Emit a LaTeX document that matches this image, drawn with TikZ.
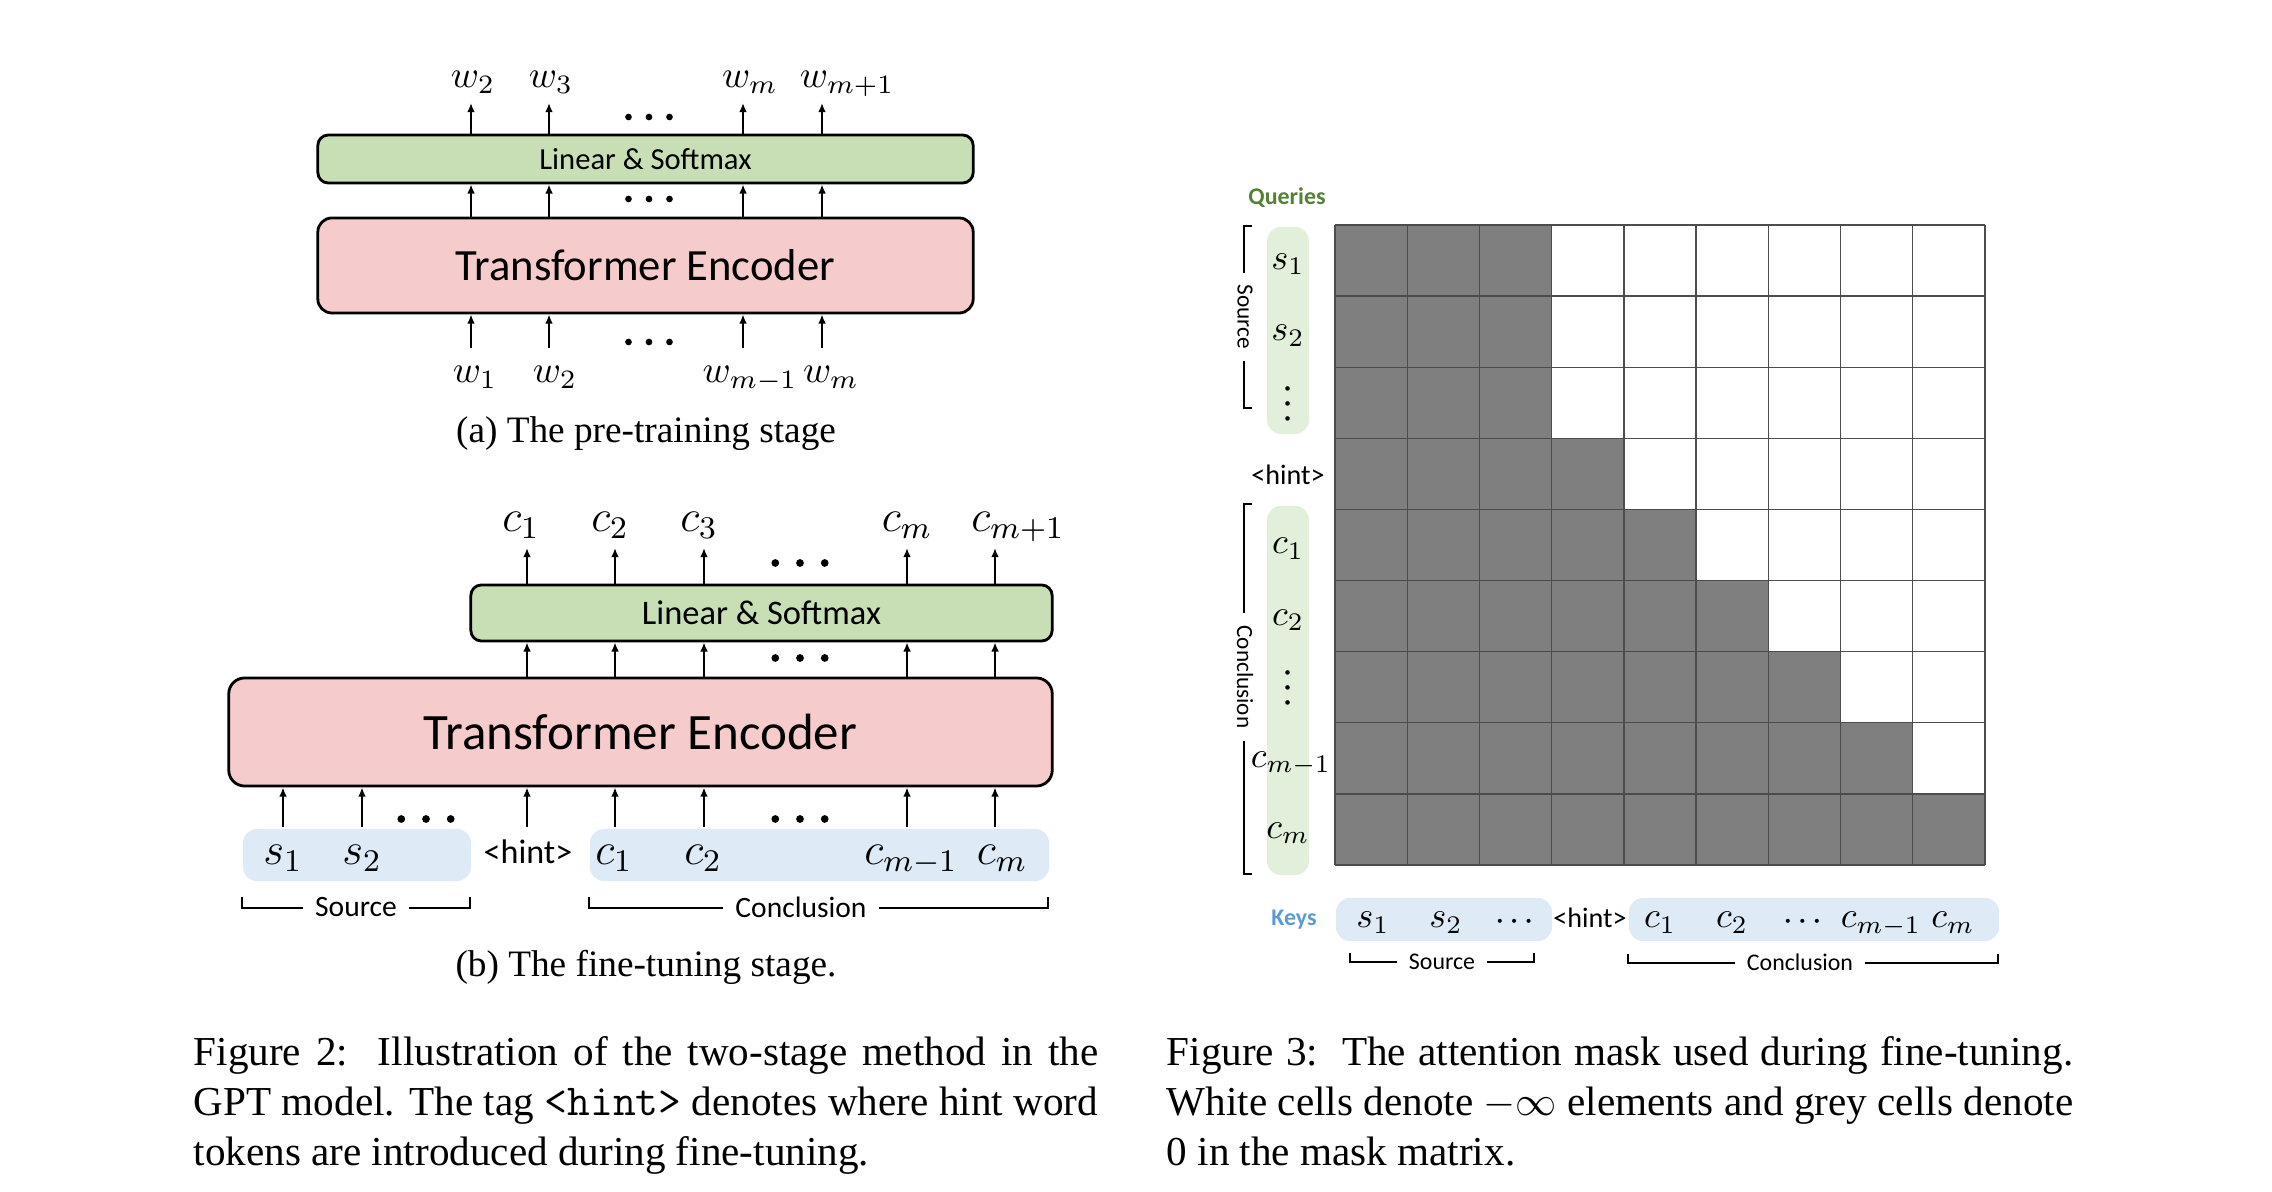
\documentclass[tikz,border=0pt]{standalone}
\usepackage{fix-cm}
\usepackage{mathtools}
\usepackage{graphicx}
\usepackage{fontspec}
\setmainfont{Liberation Serif}
\newfontfamily\diagfont{Carlito}
\usetikzlibrary{arrows.meta,positioning}

\definecolor{lsgreen}{HTML}{C8DFB5}
\definecolor{encpink}{HTML}{F6CBCC}
\definecolor{tokblue}{HTML}{DEEAF6}
\definecolor{qgreen}{HTML}{E2EFDA}
\definecolor{cellgrey}{HTML}{7F7F7F}
\definecolor{qtext}{HTML}{548235}
\definecolor{ktext}{HTML}{5B9BD5}

\begin{document}
\begin{tikzpicture}[x=0.01cm, y=-0.01cm] % 1 unit = 1 px of the page, y down
\tikzstyle{block} = [draw, line width=0.8pt, inner sep=0pt] % Linear / Transformer blocks
\tikzstyle{strip} = [fill=tokblue, rounded corners=4pt, inner sep=0pt] % token strips
\tikzstyle{arr} = [line width=0.6pt, -{Latex[length=2.6pt,width=2.2pt]}]
\tikzstyle{brk} = [line width=0.55pt] % brackets under / beside the tokens
\tikzstyle{tag} = [inner sep=0pt, anchor=base] % token labels
\tikzstyle{gap} = [fill=white, inner xsep=3.5pt, inner ysep=1pt] % text cutting a bracket
\tikzstyle{gridln} = [line width=0.4pt, black!70]
\tikzstyle{mA} = [font=\fontsize{10.8}{12}\selectfont] % math, stage (a)
\tikzstyle{mB} = [font=\fontsize{12.8}{14}\selectfont] % math, stage (b)
\tikzstyle{mM} = [font=\fontsize{10.3}{12}\selectfont] % math, mask
\tikzstyle{dotA} = [circle, fill, inner sep=0pt, minimum size=1.9pt] % ellipsis dot, (a)
\tikzstyle{dotB} = [circle, fill, inner sep=0pt, minimum size=2.2pt] % ellipsis dot, (b)
\tikzstyle{dotsM} = [inner sep=0pt, font=\fontsize{8.2}{9}\selectfont\boldmath]
\def\cw{72.22} % cell width
\def\ch{71.11} % cell height

\useasboundingbox (0,0) rectangle (2272,1192);

% ---------------- (a) pre-training ----------------
\node[block, fill=lsgreen, rounded corners=3pt, minimum width=6.55cm, minimum height=0.48cm,
      font=\diagfont\fontsize{8.7}{10}\selectfont] (lsA) at (645.5,159) {Linear \& Softmax};
\node[block, fill=encpink, rounded corners=4pt, minimum width=6.55cm, minimum height=0.95cm,
      font=\diagfont\fontsize{12.7}{14}\selectfont] (encA) at (645.5,265.5) {Transformer Encoder};
\foreach \x/\lab [count=\i] in {473/w_2, 551/w_3, 750/w_m, 847/w_{m+1}}
    \node[tag, mA] (oa\i) at (\x,88) {$\lab$};
\foreach \x/\lab [count=\i] in {475/w_1, 555/w_2, 750/w_{m-1}, 831/w_m}
    \node[tag, mA] (ia\i) at (\x,383) {$\lab$};
\foreach \x [count=\i] in {471,549,743,822}{
    \coordinate (fa\i) at (\x,348); % foot of input arrow
    \coordinate (ta\i) at (\x,103); % tip of output arrow
    \draw[arr] (fa\i) -- (fa\i |- encA.south);
    \draw[arr] (fa\i |- encA.north) -- (fa\i |- lsA.south);
    \draw[arr] (fa\i |- lsA.north) -- (ta\i);
}
\foreach \cy [count=\k] in {117,199,342} % rows of dots
    \foreach \d [count=\j] in {-1,0,1}
        \node[dotA] (dA\k\j) at (649+\d*20.5,\cy) {};
\node[anchor=base, font=\fontsize{10.6}{12}\selectfont] (capA) at (646,443) {(a) The pre-training stage};

% ---------------- (b) fine-tuning ----------------
\node[block, fill=lsgreen, rounded corners=3pt, minimum width=5.81cm, minimum height=0.56cm,
      font=\diagfont\fontsize{9.8}{11}\selectfont] (lsB) at (761.5,613) {Linear \& Softmax};
\node[block, fill=encpink, rounded corners=4.5pt, minimum width=8.23cm, minimum height=1.08cm,
      font=\diagfont\fontsize{14.5}{16}\selectfont] (encB) at (640.5,732) {Transformer Encoder};
\node[strip, minimum width=2.28cm, minimum height=0.52cm] (srcB) at (357,855) {};
\node[strip, minimum width=4.59cm, minimum height=0.52cm] (conB) at (819.5,855) {};
\foreach \x/\lab [count=\i] in {521/c_1, 610/c_2, 699/c_3, 907/c_m, 1018/c_{m+1}}
    \node[tag, mB] (ob\i) at (\x,532) {$\lab$};
\foreach \x/\lab [count=\i] in {283/s_1, 362/s_2, 614/c_1, 703/c_2, 911/c_{m-1}, 1002/c_m}
    \node[tag, mB] (ib\i) at (\x,865) {$\lab$};
\node[tag, font=\diagfont\fontsize{9.7}{11}\selectfont] (hintB) at (528,864) {<hint>};
\foreach \x [count=\i] in {283,362,527,615,704,907,995}{
    \coordinate (fb\i) at (\x,827);
    \draw[arr] (fb\i) -- (fb\i |- encB.south);
}
\foreach \x [count=\i] in {527,615,704,907,995}{
    \coordinate (tb\i) at (\x,548);
    \draw[arr] (tb\i |- encB.north) -- (tb\i |- lsB.south);
    \draw[arr] (tb\i |- lsB.north) -- (tb\i);
}
\foreach \cx/\cy [count=\k] in {800/563, 800/658, 426/819, 800/819}
    \foreach \d [count=\j] in {-1,0,1}
        \node[dotB] (dB\k\j) at (\cx+\d*24.7,\cy) {};
% brackets
\draw[brk] (srcB.south west) ++(0,15) -- ++(0,11) -- ++(228,0) -- ++(0,-11);
\draw[brk] (conB.south west) ++(0,15) -- ++(0,11) -- ++(459,0) -- ++(0,-11);
\node[gap, font=\diagfont\fontsize{8.4}{10}\selectfont] (srcLblB) at (356,907) {Source};
\node[gap, font=\diagfont\fontsize{8.4}{10}\selectfont] (conLblB) at (801,907) {Conclusion};
\node[anchor=base, font=\fontsize{10.6}{12}\selectfont] (capB) at (646,977) {(b) The fine-tuning stage.};

% ---------------- attention mask ----------------
\foreach \row in {0,...,8}{
  \foreach \col in {0,...,8}{
    \pgfmathtruncatemacro\lastg{max(2,\row)}
    \ifnum\col>\lastg \def\cc{white}\else \def\cc{cellgrey}\fi
    \fill[\cc] (1335+\col*\cw, 225+\row*\ch) rectangle ++(\cw,\ch);
  }
}
\foreach \i in {0,...,9}{
  \draw[gridln] (1335+\i*\cw, 225) -- (1335+\i*\cw, 865);
  \draw[gridln] (1335, 225+\i*\ch) -- (1985, 225+\i*\ch);
}
% queries
\node[font=\diagfont\bfseries\fontsize{6.8}{8}\selectfont, text=qtext] (qry) at (1287,198) {Queries};
\node[fill=qgreen, rounded corners=4pt, minimum width=0.42cm, minimum height=2.07cm] (qsrc) at (1288,330.5) {};
\node[fill=qgreen, rounded corners=4pt, minimum width=0.42cm, minimum height=3.69cm] (qcon) at (1288,690.5) {};
\foreach \row/\lab in {0/s_1, 1/s_2, 4/c_1, 5/c_2, 8/c_m}
    \node[tag, mM] (q\row) at (1288, 225+\row*\ch+\ch/2+9) {$\lab$};
\node[tag, mM] (q7) at (1291, 225+7*\ch+\ch/2+9) {$c_{m-1}$};
\node[dotsM] (q2) at (1288,401) {\rotatebox{90}{$\cdots$}};
\node[dotsM] (q6) at (1288,685) {\rotatebox{90}{$\cdots$}};
\node[font=\diagfont\fontsize{8}{9}\selectfont] (q3) at (1288,474.5) {<hint>};
\draw[brk] (qsrc.north west) ++(-14,0) -- ++(-8,0) -- ++(0,182) -- ++(8,0);
\draw[brk] (qcon.north west) ++(-14,-1) -- ++(-8,0) -- ++(0,370) -- ++(8,0);
\node[gap, rotate=-90, font=\diagfont\fontsize{6.6}{8}\selectfont] (srcLblQ) at (1245,317) {Source};
\node[gap, rotate=-90, font=\diagfont\fontsize{6.6}{8}\selectfont] (conLblQ) at (1245,677) {Conclusion};
% keys
\node[font=\diagfont\bfseries\fontsize{6.8}{8}\selectfont, text=ktext] (keys) at (1294,920) {Keys};
\node[strip, minimum width=2.16cm, minimum height=0.43cm] (ksrc) at (1444,919.5) {};
\node[strip, minimum width=3.70cm, minimum height=0.43cm] (kcon) at (1814,919.5) {};
\foreach \x/\lab [count=\i] in {1373/s_1, 1446/s_2, 1660/c_1, 1732/c_2, 1881/c_{m-1}, 1953/c_m}
    \node[tag, mM] (k\i) at (\x,928) {$\lab$};
\node[dotsM, font=\fontsize{7}{8}\selectfont\boldmath] (kd1) at (1517,921) {$\cdots$};
\node[dotsM, font=\fontsize{7}{8}\selectfont\boldmath] (kd2) at (1805,921) {$\cdots$};
\node[font=\diagfont\fontsize{8}{9}\selectfont] (kh) at (1590,918) {<hint>};
\draw[brk] (1350,953) -- (1350,962) -- (1534,962) -- (1534,953);
\draw[brk] (kcon.south west) ++(0,12) -- ++(0,9) -- ++(370,0) -- ++(0,-9);
\node[gap, font=\diagfont\fontsize{6.8}{8}\selectfont] (srcLblK) at (1442,962) {Source};
\node[gap, font=\diagfont\fontsize{6.8}{8}\selectfont] (conLblK) at (1800,962) {Conclusion};

% ---------------- captions ----------------
\node[anchor=north west, text width=9.04cm, align=justify, inner sep=0pt,
      font=\fontsize{11.7}{14.2}\selectfont] (capL) at (193,1036)
  {Figure 2:\ \ Illustration of the two-stage method in the\linebreak
   GPT model. The tag {\fontsize{12.6}{14.2}\selectfont\texttt{<hint>}} denotes where hint word\linebreak
   tokens are introduced during fine-tuning.};
\node[anchor=north west, text width=9.06cm, align=justify, inner sep=0pt,
      font=\fontsize{11.7}{14.2}\selectfont] (capR) at (1166,1036)
  {Figure 3:\ \ The attention mask used during fine-tuning.\linebreak
   White cells denote $-\infty$ elements and grey cells denote\linebreak
   0 in the mask matrix.};
\end{tikzpicture}
\end{document}
